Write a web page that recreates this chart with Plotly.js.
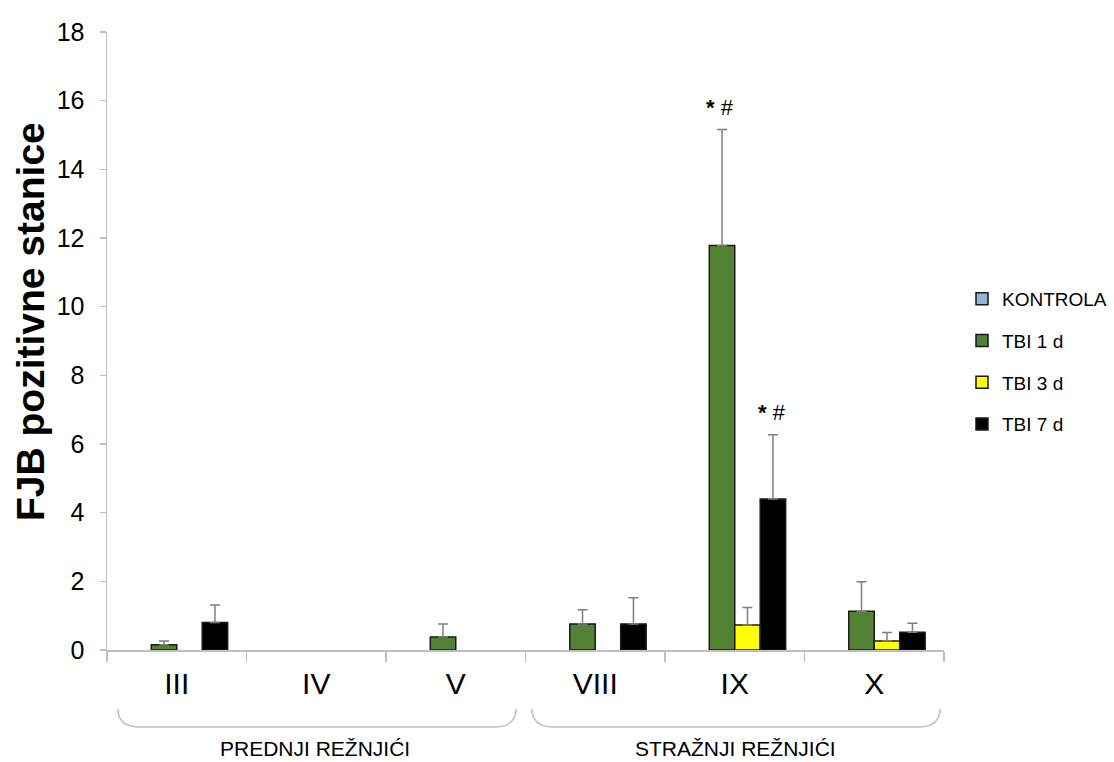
<!DOCTYPE html>
<html>
<head>
<meta charset="utf-8">
<script src="https://cdn.plot.ly/plotly-3.0.1.min.js"></script>
<style>html,body{margin:0;padding:0;background:#fff;}#chart{width:1114px;height:762px;}</style>
</head>
<body>
<div id="chart"></div>
<script>
const categories = ["III", "IV", "V", "VIII", "IX", "X"];
const seriesNames = ["KONTROLA", "TBI 1 d", "TBI 3 d", "TBI 7 d"];
const kontrola = [0, 0, 0, 0, 0, 0];
const kontrolaErr = [0, 0, 0, 0, 0, 0];
const tbi1 = [0.15, 0, 0.38, 0.76, 11.78, 1.13];
const tbi1Err = [0.11, 0, 0.38, 0.41, 3.38, 0.86];
const tbi3 = [0, 0, 0, 0, 0.73, 0.26];
const tbi3Err = [0, 0, 0, 0, 0.51, 0.25];
const tbi7 = [0.8, 0, 0, 0.76, 4.40, 0.52];
const tbi7Err = [0.51, 0, 0, 0.76, 1.87, 0.26];
const groupLabels = ["PREDNJI REŽNJIĆI", "STRAŽNJI REŽNJIĆI"];
const yTitle = "FJB pozitivne stanice";
const markText = "<b>*</b> #";

const colors = ["#95b3d7", "#548235", "#ffff00", "#000000"];
const values = [kontrola, tbi1, tbi3, tbi7];
const errs = [kontrolaErr, tbi1Err, tbi3Err, tbi7Err];

// zero-height bars are not drawn in the reference, so they are passed as gaps
const traces = values.map((v, i) => ({
  type: "bar",
  name: seriesNames[i],
  x: categories,
  y: v.map(val => val > 0 ? val : null),
  legendgroup: "g" + i,
  marker: {color: colors[i], line: {color: "#1a1a1a", width: 1.5}},
  error_y: {type: "data", symmetric: false, array: errs[i], arrayminus: v.map(() => 0),
            color: "#7f7f7f", thickness: 1.5, width: 5, visible: true},
  hoverinfo: "skip"
}));

const fontFam = "Liberation Sans, Arial, sans-serif";

const layout = {
  width: 1114, height: 762,
  margin: {l: 107, r: 170, t: 32, b: 112},
  paper_bgcolor: "#fff", plot_bgcolor: "#fff",
  barmode: "group", bargap: 0.27, bargroupgap: 0,
  showlegend: true,
  legend: {xref: "container", yref: "container", x: 962 / 1114, xanchor: "left", y: 1 - 280 / 762, yanchor: "top",
           font: {family: fontFam, size: 19, color: "#000"}, tracegroupgap: 14,
           bgcolor: "rgba(0,0,0,0)"},
  font: {family: fontFam, color: "#000"},
  xaxis: {
    type: "category", showline: true, linecolor: "#bfbfbf", linewidth: 1.5,
    ticks: "outside", tickson: "boundaries", ticklen: 10, tickcolor: "#bfbfbf", tickwidth: 1.5,
    tickfont: {family: fontFam, size: 30, color: "#000"}, ticklabelstandoff: 6,
    showgrid: false, zeroline: false, fixedrange: true, automargin: false
  },
  yaxis: {
    range: [0, 18], dtick: 2, tick0: 0, showline: true, linecolor: "#bfbfbf", linewidth: 1.5,
    ticks: "outside", ticklen: 6, tickcolor: "#bfbfbf", tickwidth: 1.5,
    tickfont: {family: fontFam, size: 25, color: "#000"}, ticklabelstandoff: 10,
    showgrid: false, zeroline: false, fixedrange: true, automargin: false
  },
  annotations: [
    {xref: "paper", yref: "paper", x: (30 - 107) / 837, y: (650 - 322) / 618, xanchor: "center", yanchor: "middle",
     textangle: -90, text: "<b>" + yTitle + "</b>", showarrow: false, font: {family: fontFam, size: 39, color: "#000"}},
    {xref: "x", yref: "y", x: categories[4], y: tbi1[4] + tbi1Err[4], xshift: -15, yshift: 22,
     text: markText, showarrow: false, font: {family: fontFam, size: 22, color: "#000"}},
    {xref: "x", yref: "y", x: categories[4], y: tbi7[4] + tbi7Err[4], xshift: 37, yshift: 22,
     text: markText, showarrow: false, font: {family: fontFam, size: 22, color: "#000"}},
    {xref: "paper", yref: "paper", x: (315 - 107) / 837, y: (650 - 748) / 618, xanchor: "center", yanchor: "middle",
     text: groupLabels[0], showarrow: false, font: {family: fontFam, size: 21, color: "#000"}},
    {xref: "paper", yref: "paper", x: (735 - 107) / 837, y: (650 - 748) / 618, xanchor: "center", yanchor: "middle",
     text: groupLabels[1], showarrow: false, font: {family: fontFam, size: 21, color: "#000"}}
  ],
  shapes: []
};

function px(xp) { return (xp - 107) / 837; }
function py(yp) { return (650 - yp) / 618; }
function bracket(x0, x1) {
  const yt = 709, yb = 727, r = 22;
  return {
    type: "path", xref: "paper", yref: "paper",
    path: `M ${px(x0)},${py(yt)} Q ${px(x0)},${py(yb)} ${px(x0 + r)},${py(yb)} L ${px(x1 - r)},${py(yb)} Q ${px(x1)},${py(yb)} ${px(x1)},${py(yt)}`,
    line: {color: "#bfbfbf", width: 1.5}
  };
}
layout.shapes.push(bracket(118, 516));
layout.shapes.push(bracket(532, 940));

Plotly.newPlot("chart", traces, layout, {displayModeBar: false, staticPlot: true});
</script>
</body>
</html>
